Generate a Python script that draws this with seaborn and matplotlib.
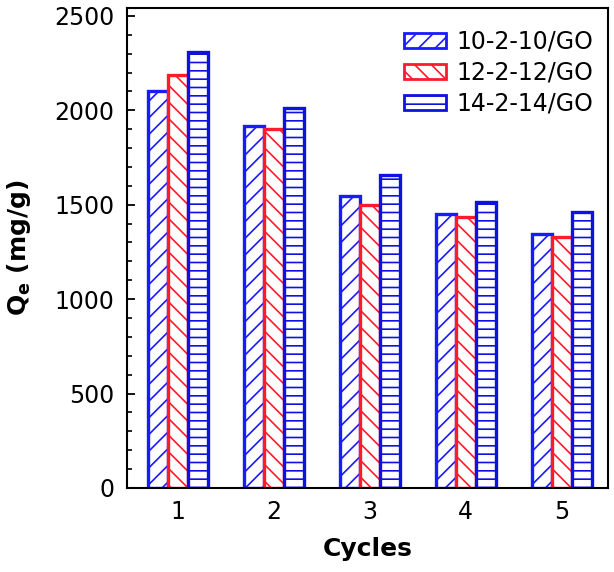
import pandas as pd
import numpy as np
import matplotlib
matplotlib.use('Agg')
import matplotlib.pyplot as plt
import seaborn as sns
from matplotlib.ticker import MultipleLocator

# data
cycles = ['1', '2', '3', '4', '5']
series = ['10-2-10/GO', '12-2-12/GO', '14-2-14/GO']
qe_10 = [2105, 1915, 1545, 1450, 1345]
qe_12 = [2185, 1900, 1500, 1435, 1330]
qe_14 = [2310, 2010, 1660, 1515, 1460]

colors = ['#1a1aff', '#ff1a2e', '#1010e0']
hatches = ['//', '\\\\', '--']

df = pd.DataFrame({
    'Cycles': cycles * 3,
    'Qe': qe_10 + qe_12 + qe_14,
    'Sample': [s for s in series for _ in cycles],
})

sns.set_style('ticks')
plt.rcParams['font.family'] = ['DejaVu Sans']
plt.rcParams['hatch.linewidth'] = 1.2
plt.rcParams['text.color'] = 'black'
plt.rcParams['axes.labelcolor'] = 'black'
plt.rcParams['xtick.color'] = 'black'
plt.rcParams['ytick.color'] = 'black'
plt.rcParams['axes.edgecolor'] = 'black'

fig = plt.figure(figsize=(6.14, 5.72), dpi=100)
ax = fig.add_axes([0.207, 0.147, 0.783, 0.839])

sns.barplot(data=df, x='Cycles', y='Qe', hue='Sample', hue_order=series,
            order=cycles, width=0.63, gap=0, ax=ax, errorbar=None,
            palette=['white'] * 3, saturation=1)

# style each bar: white fill, coloured edge and hatch
for cont, col, h in zip(ax.containers, colors, hatches):
    for bar in cont:
        bar.set_facecolor('white')
        bar.set_edgecolor(col)
        bar.set_hatch(h)
        bar.set_linewidth(2.4)

ax.set_xlim(-0.53, 4.48)
ax.set_ylim(0, 2542)
ax.yaxis.set_major_locator(MultipleLocator(500))
ax.yaxis.set_minor_locator(MultipleLocator(100))
ax.tick_params(axis='both', which='both', direction='in', labelsize=17,
               top=False, right=False)
ax.tick_params(axis='both', which='major', length=6, width=1.3, pad=9)
ax.tick_params(axis='y', which='minor', length=3.5, width=1.2)
for sp in ax.spines.values():
    sp.set_linewidth(1.5)

ax.set_xlabel('Cycles', fontsize=18, fontweight='bold', labelpad=9)
ax.set_ylabel(r'Q$_\mathbf{e}$ (mg/g)', fontsize=18, fontweight='bold')
ax.yaxis.set_label_coords(-0.195, 0.5)

handles, labels = ax.get_legend_handles_labels()
for hnd, col, h in zip(handles, colors, hatches):
    hnd.set_facecolor('white')
    hnd.set_edgecolor(col)
    hnd.set_hatch(h)
    hnd.set_linewidth(2)
ax.legend(handles, labels, loc='upper right', bbox_to_anchor=(1.0, 0.985),
          frameon=False, fontsize=17,
          handlelength=1.8, handleheight=0.6, labelspacing=0.3,
          handletextpad=0.45, borderaxespad=0.3, borderpad=0.3)

fig.savefig('out.png', dpi=100)
